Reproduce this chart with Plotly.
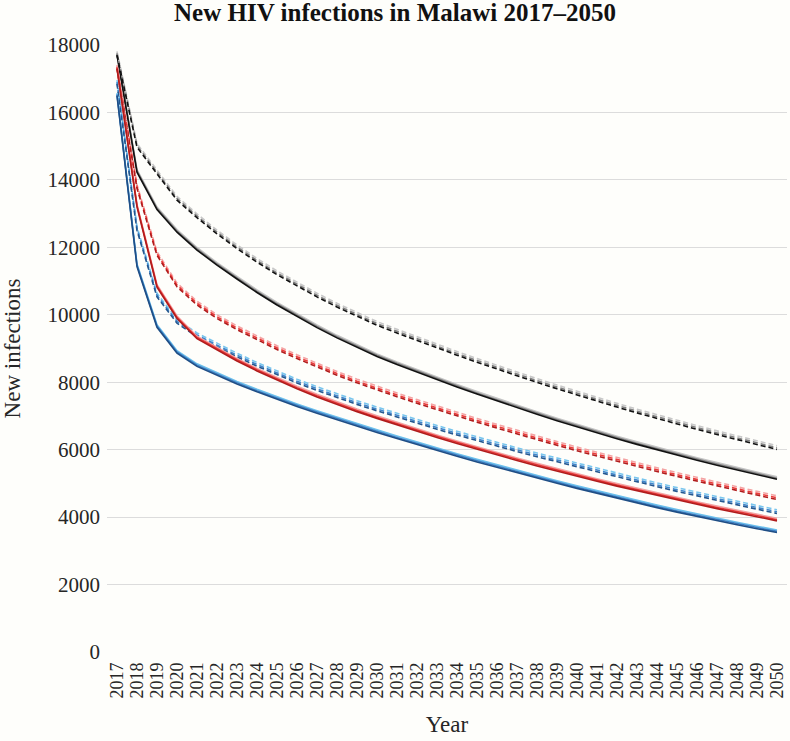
import plotly.graph_objects as go

years = list(range(2017, 2051))

# Black solid group (dark, mid, light shades)
black_solid_dark = [17700, 14230, 13120, 12450, 11920, 11470, 11060, 10660, 10290, 9945, 9620, 9315, 9030, 8765,
                    8525, 8297, 8075, 7859, 7649, 7444, 7244, 7049, 6859, 6674, 6494, 6323, 6157, 5996, 5840, 5688, 5540, 5396, 5256, 5120]
black_solid_mid = [17735, 14265, 13155, 12485, 11955, 11505, 11095, 10695, 10325, 9980, 9655, 9350, 9065, 8800,
                   8560, 8332, 8110, 7894, 7684, 7479, 7279, 7084, 6894, 6709, 6529, 6358, 6192, 6031, 5875, 5723, 5575, 5431, 5291, 5155]
black_solid_light = [17775, 14305, 13195, 12525, 11995, 11545, 11135, 10735, 10365, 10020, 9695, 9390, 9105, 8840,
                     8600, 8372, 8150, 7934, 7724, 7519, 7319, 7124, 6934, 6749, 6569, 6398, 6232, 6071, 5915, 5763, 5615, 5471, 5331, 5195]

# Black dashed group
black_dash_dark = [17700, 14970, 14180, 13400, 12880, 12400, 11960, 11560, 11190, 10850, 10530, 10230, 9950, 9690,
                   9460, 9235, 9015, 8801, 8592, 8388, 8189, 7995, 7806, 7621, 7440, 7263, 7091, 6924, 6761, 6602, 6447, 6296, 6149, 6006]
black_dash_mid = [17750, 15020, 14230, 13450, 12930, 12450, 12010, 11610, 11240, 10900, 10580, 10280, 10000, 9740,
                  9510, 9285, 9065, 8851, 8642, 8438, 8239, 8045, 7856, 7671, 7490, 7313, 7141, 6974, 6811, 6652, 6497, 6346, 6199, 6056]
black_dash_light = [17810, 15080, 14290, 13510, 12990, 12510, 12070, 11670, 11300, 10960, 10640, 10340, 10060, 9800,
                    9570, 9345, 9125, 8911, 8702, 8498, 8299, 8105, 7916, 7731, 7550, 7373, 7201, 7034, 6871, 6712, 6557, 6406, 6259, 6116]

# Red solid group
red_solid_dark = [17300, 13200, 10820, 9890, 9290, 8950, 8630, 8335, 8060, 7805, 7565, 7340, 7128, 6928,
                  6733, 6544, 6361, 6183, 6010, 5842, 5678, 5518, 5362, 5210, 5062, 4918, 4778, 4642, 4509, 4379, 4252, 4128, 4007, 3889]
red_solid_mid = [17335, 13235, 10855, 9925, 9325, 8985, 8665, 8370, 8095, 7840, 7600, 7375, 7163, 6963,
                 6768, 6579, 6396, 6218, 6045, 5877, 5713, 5553, 5397, 5245, 5097, 4953, 4813, 4677, 4544, 4414, 4287, 4163, 4042, 3924]
red_solid_light = [17375, 13275, 10895, 9965, 9365, 9025, 8705, 8410, 8135, 7880, 7640, 7415, 7203, 7003,
                   6808, 6619, 6436, 6258, 6085, 5917, 5753, 5593, 5437, 5285, 5137, 4993, 4853, 4717, 4584, 4454, 4327, 4203, 4082, 3964]

# Red dashed group
red_dash_dark = [17300, 13750, 11760, 10830, 10290, 9890, 9560, 9255, 8970, 8702, 8449, 8209, 7981, 7766,
                 7570, 7375, 7185, 6999, 6817, 6639, 6465, 6295, 6129, 5967, 5809, 5654, 5502, 5353, 5207, 5064, 4924, 4787, 4653, 4522]
red_dash_mid = [17350, 13800, 11810, 10880, 10340, 9940, 9610, 9305, 9020, 8752, 8499, 8259, 8031, 7816,
                7620, 7425, 7235, 7049, 6867, 6689, 6515, 6345, 6179, 6017, 5859, 5704, 5552, 5403, 5257, 5114, 4974, 4837, 4703, 4572]
red_dash_light = [17410, 13860, 11870, 10940, 10400, 10000, 9670, 9365, 9080, 8812, 8559, 8319, 8091, 7876,
                  7680, 7485, 7295, 7109, 6927, 6749, 6575, 6405, 6239, 6077, 5919, 5764, 5612, 5463, 5317, 5174, 5034, 4897, 4763, 4632]

# Blue solid group
blue_solid_dark = [16500, 11430, 9630, 8860, 8470, 8200, 7950, 7715, 7493, 7282, 7080, 6885, 6696, 6512,
                   6329, 6150, 5975, 5804, 5637, 5474, 5314, 5157, 5003, 4852, 4704, 4559, 4418, 4281, 4148, 4019, 3894, 3773, 3656, 3542]
blue_solid_mid = [16535, 11465, 9665, 8895, 8505, 8235, 7985, 7750, 7528, 7317, 7115, 6920, 6731, 6547,
                  6364, 6185, 6010, 5839, 5672, 5509, 5349, 5192, 5038, 4887, 4739, 4594, 4453, 4316, 4183, 4054, 3929, 3808, 3691, 3577]
blue_solid_light = [16575, 11505, 9705, 8935, 8545, 8275, 8025, 7790, 7568, 7357, 7155, 6960, 6771, 6587,
                    6404, 6225, 6050, 5879, 5712, 5549, 5389, 5232, 5078, 4927, 4779, 4634, 4493, 4356, 4223, 4094, 3969, 3848, 3731, 3617]

# Blue dashed group
blue_dash_dark = [16850, 12500, 10530, 9750, 9350, 9040, 8750, 8475, 8220, 7980, 7755, 7543, 7343, 7153,
                  6965, 6783, 6606, 6434, 6267, 6104, 5945, 5790, 5639, 5492, 5348, 5196, 5048, 4904, 4764, 4627, 4493, 4362, 4234, 4109]
blue_dash_mid = [16900, 12550, 10580, 9800, 9400, 9090, 8800, 8525, 8270, 8030, 7805, 7593, 7393, 7203,
                 7015, 6833, 6656, 6484, 6317, 6154, 5995, 5840, 5689, 5542, 5398, 5246, 5098, 4954, 4814, 4677, 4543, 4412, 4284, 4159]
blue_dash_light = [16960, 12610, 10640, 9860, 9460, 9150, 8860, 8585, 8330, 8090, 7865, 7653, 7453, 7263,
                   7075, 6893, 6716, 6544, 6377, 6214, 6055, 5900, 5749, 5602, 5458, 5306, 5158, 5014, 4874, 4737, 4603, 4472, 4344, 4219]

y_ticks = [0, 2000, 4000, 6000, 8000, 10000, 12000, 14000, 16000, 18000]

series = [
    # (name, values, colour, dash)
    ("Black solid (light)", black_solid_light, "#c4c4c4", "solid"),
    ("Black solid (mid)", black_solid_mid, "#7f7f7f", "solid"),
    ("Black solid", black_solid_dark, "#111111", "solid"),
    ("Black dashed (light)", black_dash_light, "#c8c8c8", "5px,3px"),
    ("Black dashed (mid)", black_dash_mid, "#808080", "5px,3px"),
    ("Black dashed", black_dash_dark, "#111111", "5px,3px"),
    ("Red dashed (light)", red_dash_light, "#f4a3a3", "5px,3px"),
    ("Red dashed (mid)", red_dash_mid, "#ec3b3b", "5px,3px"),
    ("Red dashed", red_dash_dark, "#b01c1c", "5px,3px"),
    ("Blue dashed (light)", blue_dash_light, "#79c6ee", "5px,3px"),
    ("Blue dashed (mid)", blue_dash_mid, "#3f86cc", "5px,3px"),
    ("Blue dashed", blue_dash_dark, "#24578f", "5px,3px"),
    ("Red solid (light)", red_solid_light, "#f4a3a3", "solid"),
    ("Red solid (mid)", red_solid_mid, "#e63636", "solid"),
    ("Red solid", red_solid_dark, "#b01c1c", "solid"),
    ("Blue solid (light)", blue_solid_light, "#6cc0ec", "solid"),
    ("Blue solid (mid)", blue_solid_mid, "#3c7fc4", "solid"),
    ("Blue solid", blue_solid_dark, "#1f4e85", "solid"),
]

fig = go.Figure()
for name, vals, col, dash in series:
    fig.add_trace(go.Scatter(x=years, y=vals, mode="lines", name=name,
                             line=dict(color=col, width=1.6, dash=dash)))

font_family = "Liberation Serif, Times New Roman, serif"
bg = "#fefefb"

fig.update_layout(
    width=790, height=741,
    margin=dict(l=107, r=3, t=45, b=89),
    paper_bgcolor=bg, plot_bgcolor=bg,
    showlegend=False,
    font=dict(family=font_family, color="#262626"),
    title=dict(text="<b>New HIV infections in Malawi 2017–2050</b>",
               x=0.5, xanchor="center", y=0.983, yanchor="middle",
               font=dict(family=font_family, size=25, color="#111111")),
    xaxis=dict(
        range=[2016.5, 2050.5],
        tickmode="array", tickvals=years, ticktext=[str(y) for y in years],
        tickangle=-90, tickfont=dict(size=18, color="#262626"),
        showgrid=False, zeroline=False, showline=False,
        ticks="", ticklabelstandoff=6,
        title=dict(text="Year", font=dict(size=23, color="#262626"), standoff=18),
    ),
    yaxis=dict(
        range=[0, 18000],
        tickmode="array", tickvals=y_ticks, ticktext=[str(v) for v in y_ticks],
        tickfont=dict(size=21, color="#262626"),
        showgrid=True, gridcolor="#dcdcdc", gridwidth=1,
        zeroline=False, showline=False, ticks="", ticklabelstandoff=6,
        title=dict(text="New infections", font=dict(size=23, color="#262626"), standoff=20),
    ),
)

fig.write_html("out.html",
               config={"displayModeBar": False},
               post_script="document.body.style.margin='0';document.body.style.padding='0';")
